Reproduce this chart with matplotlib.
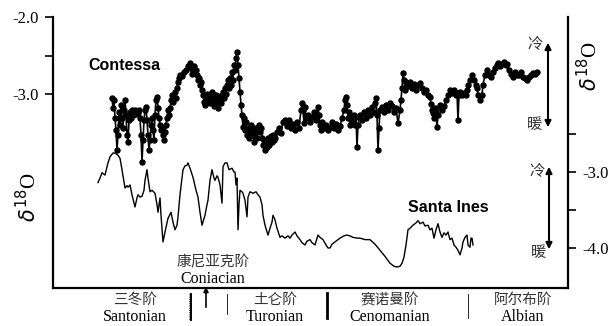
import matplotlib
matplotlib.use("Agg")
import matplotlib.pyplot as plt
from matplotlib.patches import FancyArrowPatch
from matplotlib.ticker import FixedLocator

# ---------------- data ----------------
contessa_pos = [59,60,61,62,63,64,65,66,67,68,69,70,71,72,73,74,75,76,77,78,79,80,81,82,83,84,85,86,87,88,89,90,
    91,92,93,94,95,96,97,98,99,100,101,102,103,104,105,106,107,108,109,110,111,112,113,114,115,116,117,118,119,120,
    121,122,123,124,125,126,127,129,131,133,135,137,138,139,140,141,142,143,144,145,146,147,148,149,150,151,152,153,
    154,155,156,157,158,159,160,161,162,163,164,165,166,167,168,169,170,171,172,173,174,175,176,177,178,179,180,181,
    182,183,184,185,186,187,188,189,190,191,192,193,194,195,196,197,198,199,200,201,202,203,204,205,206,207,208,209,
    210,211,212,213,214,215,216,217,218,219,220,221,222,224,226,228,230,232,234,236,238,240,242,244,246,248,249,250,
    251,252,253,255,257,259,261,263,265,266,267,268,269,271,273,275,277,279,281,283,285,287,289,291,292,293,294,295,
    296,297,298,299,301,302,303,304,305,307,309,311,313,315,317,319,321,322,323,324,325,326,327,329,331,333,335,337,
    339,341,343,345,347,348,349,350,351,352,353,355,357,359,361,363,365,367,369,371,373,375,377,378,379,380,381,382,
    383,384,385,387,389,391,393,395,397,399,401,403,404,405,406,407,409,411,413,414,415,417,419,421,423,424,425,427,
    429,430,432,434,436,438,440,442,444,445,447,449,451,453,454,456,458,460,462,464,466,468,470,472,474,476,478,480,
    482,484]
contessa_d18o = [-3.05,-3.18,-3.08,-3.31,-3.47,-3.73,-3.53,-3.23,-3.40,-3.14,-3.31,-3.44,-3.21,-3.08,-3.27,-3.53,
    -3.62,-3.34,-3.23,-3.31,-3.21,-3.27,-3.23,-3.21,-3.26,-3.22,-3.25,-3.21,-3.31,-3.53,-3.88,-3.60,-3.34,-3.21,-3.17,
    -3.34,-3.53,-3.73,-3.60,-3.40,-3.31,-3.47,-3.60,-3.27,-3.08,-3.04,-3.18,-3.31,-3.40,-3.47,-3.44,-3.53,-3.60,-3.49,
    -3.40,-3.31,-3.21,-3.27,-3.18,-3.08,-3.01,-3.10,-3.04,-2.97,-3.05,-2.92,-2.84,-2.79,-2.75,-2.77,-2.71,-2.69,-2.64,
    -2.60,-2.66,-2.74,-2.69,-2.64,-2.71,-2.69,-2.75,-2.82,-2.79,-2.88,-2.84,-2.95,-3.01,-3.10,-3.14,-3.05,-3.00,-3.08,
    -3.03,-3.12,-3.06,-2.97,-3.05,-3.16,-3.10,-3.01,-3.08,-3.18,-3.08,-3.03,-3.12,-3.05,-2.97,-3.05,-2.92,-3.00,-2.88,
    -2.82,-2.92,-2.79,-2.88,-2.71,-2.82,-2.62,-2.69,-2.53,-2.45,-2.62,-2.79,-2.97,-3.14,-3.27,-3.43,-3.31,-3.47,-3.36,
    -3.53,-3.44,-3.57,-3.47,-3.40,-3.53,-3.44,-3.62,-3.51,-3.44,-3.57,-3.47,-3.40,-3.49,-3.44,-3.57,-3.66,-3.60,-3.73,
    -3.62,-3.69,-3.57,-3.66,-3.60,-3.55,-3.62,-3.53,-3.60,-3.57,-3.49,-3.44,-3.51,-3.36,-3.34,-3.42,-3.34,-3.44,-3.39,
    -3.47,-3.36,-3.44,-3.21,-3.12,-3.21,-3.38,-3.17,-3.31,-3.27,-3.36,-3.30,-3.23,-3.34,-3.17,-3.27,-3.40,-3.47,-3.36,
    -3.44,-3.40,-3.47,-3.43,-3.36,-3.44,-3.39,-3.47,-3.42,-3.31,-3.21,-3.08,-3.04,-3.14,-3.31,-3.23,-3.40,-3.30,-3.34,
    -3.27,-3.40,-3.30,-3.69,-3.40,-3.27,-3.34,-3.23,-3.31,-3.21,-3.27,-3.17,-3.23,-3.12,-3.05,-3.27,-3.73,-3.44,-3.21,
    -3.17,-3.23,-3.14,-3.21,-3.12,-3.16,-3.23,-3.18,-3.38,-3.21,-3.08,-2.92,-2.73,-2.82,-2.95,-2.84,-2.90,-2.84,-2.92,
    -2.87,-2.95,-2.88,-2.86,-2.92,-2.97,-2.95,-3.01,-3.04,-3.13,-3.21,-3.25,-3.31,-3.18,-3.25,-3.43,-3.27,-3.14,-3.21,
    -3.16,-3.08,-3.01,-2.95,-2.99,-2.95,-3.01,-2.99,-3.34,-3.01,-2.97,-3.01,-2.99,-3.01,-2.95,-2.88,-2.82,-2.75,-2.82,
    -2.88,-2.92,-3.01,-3.08,-3.01,-2.88,-2.75,-2.69,-2.75,-2.78,-2.71,-2.66,-2.62,-2.60,-2.64,-2.61,-2.58,-2.62,-2.61,
    -2.69,-2.74,-2.78,-2.71,-2.75,-2.75,-2.71,-2.78,-2.79,-2.82,-2.78,-2.75,-2.73,-2.74,-2.71]

santa_pos = [45,47,49,52,55,57,60,62,65,67,69,72,74,75,77,79,82,84,85,87,89,91,92,94,95,97,99,102,104,105,107,108,
    110,112,115,118,120,122,124,125,127,130,132,134,135,137,140,143,145,147,149,151,152,154,155,157,159,161,162,164,
    165,167,169,170,172,174,176,179,181,182,183,184,185,186,187,189,190,192,194,195,197,200,203,205,207,209,210,212,
    215,217,219,220,222,224,227,229,232,235,237,239,242,244,247,249,252,254,257,259,262,264,265,267,270,273,275,277,
    279,282,285,287,291,294,297,300,304,307,312,317,322,327,332,337,341,344,347,349,351,353,355,357,360,363,365,367,
    370,372,375,377,379,381,383,385,387,389,391,393,395,397,399,401,403,405,407,409,410,412,414,415,417,418,419,420]
santa_d18o = [-3.14,-3.08,-3.01,-3.04,-2.88,-2.80,-2.75,-2.75,-2.78,-2.82,-2.97,-3.21,-3.18,-3.20,-3.17,-3.30,-3.46,
    -3.34,-3.30,-3.33,-3.32,-3.24,-3.11,-2.97,-3.08,-3.26,-3.24,-3.28,-3.43,-3.53,-3.34,-3.57,-3.92,-3.79,-3.61,-3.53,
    -3.66,-3.76,-3.70,-3.59,-3.30,-2.97,-2.92,-2.91,-2.88,-2.95,-3.07,-3.24,-3.33,-3.53,-3.70,-3.61,-3.57,-3.43,-3.37,
    -3.11,-2.97,-3.08,-3.11,-3.05,-3.07,-3.17,-3.41,-2.93,-2.88,-2.88,-2.97,-2.95,-3.00,-3.00,-3.17,-3.08,-3.76,-3.43,
    -3.24,-3.26,-3.28,-3.37,-3.59,-3.33,-3.26,-3.28,-3.26,-3.30,-3.33,-3.43,-3.57,-3.70,-3.83,-3.74,-3.66,-3.57,-3.63,
    -3.74,-3.86,-3.84,-3.87,-3.84,-3.87,-3.83,-3.79,-3.84,-3.89,-3.93,-3.96,-3.91,-3.89,-3.93,-3.96,-3.87,-3.83,-3.86,
    -3.89,-3.96,-4.00,-4.00,-3.95,-3.92,-3.89,-3.87,-3.84,-3.83,-3.84,-3.86,-3.87,-3.87,-3.89,-3.89,-3.95,-4.03,-4.11,
    -4.20,-4.24,-4.25,-4.24,-4.20,-4.12,-3.96,-3.76,-3.74,-3.70,-3.67,-3.64,-3.68,-3.66,-3.71,-3.70,-3.76,-3.74,-3.87,
    -3.76,-3.68,-3.79,-3.86,-3.80,-3.83,-3.79,-3.89,-3.87,-3.96,-3.99,-4.03,-4.09,-4.00,-3.92,-3.86,-3.83,-3.96,-3.99,
    -3.87,-3.87,-3.96]

left_ticks = [-3.0, -2.0]
left_tick_labels = ["-3.0", "-2.0"]
right_ticks = [-4.0, -3.0]
right_tick_labels = ["-4.0", "-3.0"]

stage_cn = ["三冬阶", "土仑阶", "赛诺曼阶", "阿尔布阶"]
stage_en = ["Santonian", "Turonian", "Cenomanian", "Albian"]
coniacian_cn = "康尼亚克阶"
coniacian_en = "Coniacian"

# ---------------- figure ----------------
W, H = 611, 326
fig = plt.figure(figsize=(W / 100, H / 100), dpi=100)

def fp(x, y):
    return (x / W, 1 - y / H)

L, R, T, B = 53, 568, 17, 288
ax = fig.add_axes([L / W, 1 - B / H, (R - L) / W, (B - T) / H])
ax2 = ax.twinx()

serif = "Liberation Serif"
cjk = ["Noto Sans CJK SC", "DejaVu Sans"]

ax.plot(contessa_pos, contessa_d18o, color="black", lw=1.2, marker="o", ms=3.6,
        mec="black", mfc="black", zorder=3)
ax2.plot(santa_pos, santa_d18o, color="black", lw=1.0, zorder=3)

ax.set_xlim(0, R - L)
ax.set_ylim(-2.0 - (B - T) / 77.0, -2.0)
ax2.set_ylim(-3.0 - (B - 172) / 76.0, -3.0 + (172 - T) / 76.0)

for a in (ax, ax2):
    a.spines["top"].set_visible(False)
    a.set_xticks([])
    a.patch.set_visible(False)
ax.spines["right"].set_visible(False)
ax2.spines["left"].set_visible(False)
ax2.spines["bottom"].set_visible(False)
ax.spines["left"].set_linewidth(1.6)
ax.spines["bottom"].set_linewidth(1.6)
ax2.spines["right"].set_linewidth(1.6)

ax.set_yticks(left_ticks)
ax.set_yticklabels(left_tick_labels, fontfamily=serif, fontsize=12)
ax.yaxis.set_minor_locator(FixedLocator([-2.5]))
ax2.set_yticks(right_ticks)
ax2.set_yticklabels(right_tick_labels, fontfamily=serif, fontsize=12)
ax2.yaxis.set_minor_locator(FixedLocator([-3.5, -2.5]))
for a in (ax, ax2):
    a.tick_params(axis="y", which="major", length=6, width=1.2, pad=4)
    a.tick_params(axis="y", which="minor", length=6, width=1.2)

# series labels
fig.text(*fp(88, 66), "Contessa", fontfamily="Liberation Sans", fontweight="bold",
         fontsize=11.5, va="center", ha="left")
fig.text(*fp(408, 207), "Santa Ines", fontfamily="Liberation Sans", fontweight="bold",
         fontsize=11.5, va="center", ha="left")

# delta 18 O labels
fig.text(*fp(29, 197), r"$\delta^{18}$O", fontfamily=serif, fontsize=15,
         rotation=90, ha="center", va="center")
fig.text(*fp(590, 66), r"$\delta^{18}$O", fontfamily=serif, fontsize=15,
         rotation=90, ha="center", va="center")

# cold / warm arrows
for (x, y1, y2) in [(548, 40, 130), (549, 164, 252)]:
    arr = FancyArrowPatch(fp(x, y1), fp(x, y2), transform=fig.transFigure,
                          arrowstyle="<|-|>", mutation_scale=9, lw=1.5, color="black")
    fig.add_artist(arr)
for (x, y, s) in [(535, 45, "冷"), (535, 125, "暖"), (537, 172, "冷"), (538, 253, "暖")]:
    fig.text(*fp(x, y), s, family=cjk, fontsize=11, ha="center", va="center",
             color="#333333")

# stage labels
stage_x = [135, 275, 390, 523]
for xc, cn, en in zip(stage_x, stage_cn, stage_en):
    fig.text(*fp(xc, 300), cn, family=cjk, fontsize=10.5, ha="center", va="center",
             color="#333333")
    fig.text(*fp(xc, 317), en, fontfamily=serif, fontsize=11.5, ha="center", va="center")
fig.text(*fp(213, 262), coniacian_cn, family=cjk, fontsize=10.5, ha="center", va="center",
         color="#333333")
fig.text(*fp(213, 279), coniacian_en, fontfamily=serif, fontsize=11.5, ha="center", va="center")

# separators
def vline(x, y1, y2, lw, ls="-"):
    fig.add_artist(plt.Line2D([x / W, x / W], [1 - y1 / H, 1 - y2 / H],
                              color="black", lw=lw, ls=ls, transform=fig.transFigure))
vline(191, 294, 320, 1.4)
vline(189, 294, 320, 0.6, ":")
vline(227, 294, 314, 0.6)
vline(327, 293, 318, 2.0)
vline(468, 294, 318, 0.6)
fig.add_artist(FancyArrowPatch(fp(206, 310), fp(206, 284), transform=fig.transFigure,
                               arrowstyle="-|>", mutation_scale=7, lw=1.2, color="black"))

fig.savefig("out.png", dpi=100)
